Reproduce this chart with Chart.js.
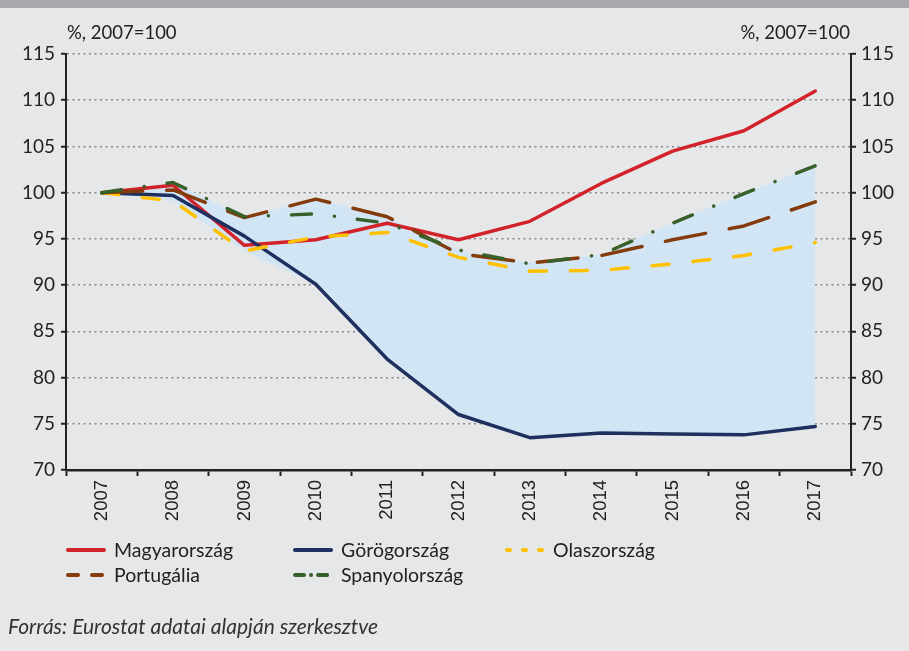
<!DOCTYPE html>
<html>
<head>
<meta charset="utf-8">
<script src="https://cdn.jsdelivr.net/npm/chart.js@4.4.1/dist/chart.umd.min.js"></script>
<style>
  html, body { margin: 0; padding: 0; }
  body { width: 909px; height: 651px; background: #e6e7e9; position: relative; overflow: hidden; font-family: Lato, "Open Sans", sans-serif; color: #222; }
  #topbar { position: absolute; left: 0; top: 0; width: 909px; height: 8px; background: #a7a8ac; }
  #wrap { position: absolute; left: 0; top: 0; width: 909px; height: 651px; }
  .unit { position: absolute; top: 21px; font-size: 18.5px; }
  #legend { position: absolute; left: 66px; top: 538px; font-size: 19.5px; }
  .item { position: absolute; white-space: nowrap; display: flex; align-items: center; }
  .item svg { margin-right: 8px; }
  #source { position: absolute; left: 8px; top: 613px; font-size: 21px; font-style: italic; color: #333; }
</style>
</head>
<body>
<div id="topbar"></div>
<div id="wrap"><canvas id="chart"></canvas></div>
<div class="unit" style="left:67px">%, 2007=100</div>
<div class="unit" style="right:59px">%, 2007=100</div>
<div id="legend"></div>
<div id="source">Forrás: Eurostat adatai alapján szerkesztve</div>
<script>
const years = ['2007', '2008', '2009', '2010', '2011', '2012', '2013', '2014', '2015', '2016', '2017'];
const hungary = [100, 100.8, 94.3, 94.9, 96.7, 94.9, 96.9, 101.0, 104.5, 106.7, 111.0];
const greece = [100, 99.7, 95.3, 90.1, 82.0, 76.0, 73.5, 74.0, 73.9, 73.8, 74.7];
const italy = [100, 99.1, 93.7, 95.2, 95.7, 93.0, 91.5, 91.6, 92.3, 93.2, 94.6];
const portugal = [100, 100.3, 97.3, 99.3, 97.4, 93.4, 92.4, 93.2, 94.9, 96.4, 99.0];
const spain = [100, 101.1, 97.4, 97.7, 96.7, 93.8, 92.3, 93.3, 96.7, 99.9, 102.9];
const yTicks = [70, 75, 80, 85, 90, 95, 100, 105, 110, 115];

// shaded range: min/max of the four southern countries
const bandLow = years.map((_, i) => Math.min(greece[i], italy[i], portugal[i], spain[i]));
const bandHigh = years.map((_, i) => Math.max(greece[i], italy[i], portugal[i], spain[i]));

const series = [
  { label: 'Magyarország', data: hungary, color: '#d2232a', dash: [], width: 3.5 },
  { label: 'Görögország', data: greece, color: '#1f2f5f', dash: [], width: 3.5 },
  { label: 'Olaszország', data: italy, color: '#ffc000', dash: [17, 24], width: 3.5 },
  { label: 'Portugália', data: portugal, color: '#843c0c', dash: [41, 24], width: 3.5 },
  { label: 'Spanyolország', data: spain, color: '#38602a', dash: [20, 23, 0.1, 23], width: 3.5 },
];

const lineSets = series.map((s, i) => ({
  label: s.label, data: s.data, borderColor: s.color, borderWidth: s.width,
  borderDash: s.dash, borderCapStyle: 'round', borderJoinStyle: 'round',
  pointRadius: 0, fill: false, tension: 0, order: 5 - i,
}));

const yScale = (pos) => ({
  type: 'linear', position: pos, min: 70, max: 115,
  afterBuildTicks: (s) => { s.ticks = yTicks.map((v) => ({ value: v })); },
  afterFit: (s) => { s.width = pos === 'left' ? 66 : 58; },
  ticks: { color: '#222', font: { family: 'Lato', size: 19 }, padding: pos === 'left' ? 6 : 5 },
  grid: {
    drawOnChartArea: pos === 'left', color: '#8a8a8a', lineWidth: 1.5,
    tickLength: 5, tickColor: '#222', tickWidth: 2,
  },
  border: { display: true, color: '#222', width: 2, dash: [2, 3.5] },
});

new Chart(document.getElementById('chart'), {
  type: 'line',
  data: {
    labels: years,
    datasets: [
      { label: 'low', data: bandLow, borderWidth: 0, pointRadius: 0, fill: false, order: 20 },
      { label: 'high', data: bandHigh, borderWidth: 0, pointRadius: 0, fill: '-1', backgroundColor: '#d2e5f5', order: 19 },
      ...lineSets,
    ],
  },
  options: {
    responsive: true, maintainAspectRatio: false, animation: false,
    layout: { padding: { top: 54, bottom: 121, left: 0, right: 0 } },
    plugins: { legend: { display: false }, tooltip: { enabled: false }, filler: { drawTime: 'beforeDatasetsDraw' } },
    scales: {
      x: {
        offset: true,
        afterFit: (s) => { s.height = 60; },
        ticks: { color: '#222', font: { family: '"Liberation Sans"', size: 18.5 }, minRotation: 90, maxRotation: 90, padding: 4 },
        grid: { offset: true, drawOnChartArea: false, tickLength: 6, tickColor: '#222', tickWidth: 2 },
        border: { color: '#222', width: 2.5 },
      },
      y: yScale('left'),
      y2: yScale('right'),
    },
  },
});

// legend in three columns, like the original
const legendPos = [[0, 0], [227, 0], [439, 0], [0, 25], [227, 25]];
const lg = document.getElementById('legend');
series.forEach((s, k) => {
  const el = document.createElement('div');
  el.className = 'item';
  el.style.left = legendPos[k][0] + 'px';
  el.style.top = legendPos[k][1] + 'px';
  let dash = '';
  if (k === 2) dash = 'stroke-dasharray="3 13"';
  if (k === 3) dash = 'stroke-dasharray="10 14"';
  if (k === 4) dash = 'stroke-dasharray="9 7 0.1 7"';
  el.innerHTML = '<svg width="40" height="10"><line x1="2" y1="5" x2="38" y2="5" stroke="' + s.color +
    '" stroke-width="4" stroke-linecap="round" ' + dash + '/></svg><span>' + s.label + '</span>';
  lg.appendChild(el);
});
</script>
</body>
</html>
